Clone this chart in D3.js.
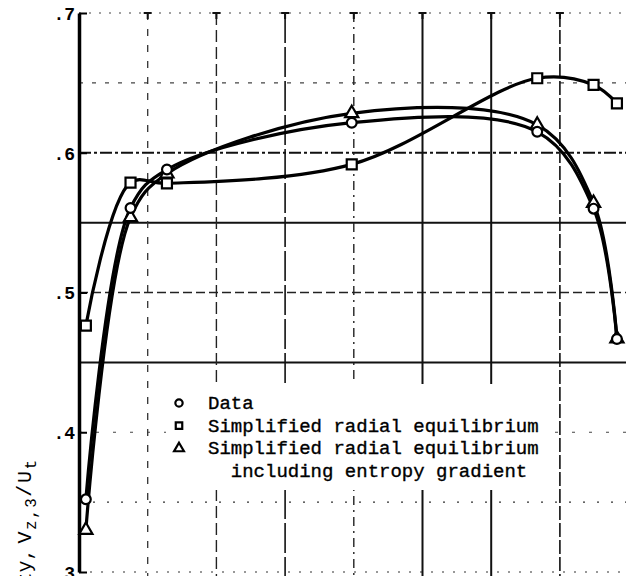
<!DOCTYPE html>
<html><head><meta charset="utf-8">
<script src="https://cdn.jsdelivr.net/npm/d3@7"></script>
<style>html,body{margin:0;padding:0;background:#fff;} svg{display:block;}</style>
</head><body><svg id="chart" width="626" height="576"></svg>
<script>
// ---- data ----
const stations = [0.1, 0.75, 1.28, 3.97, 6.67, 7.49, 7.83];
const dataValues = [0.352, 0.5605, 0.588, 0.6215, 0.615, 0.560, 0.4667];
const sreValues = [0.4763, 0.5786, 0.5781, 0.5917, 0.6533, 0.6485, 0.6354];
const sreEntropyValues = [0.330, 0.5538, 0.585, 0.6282, 0.620, 0.564, 0.467];
const yTicks = [0.3, 0.4, 0.5, 0.6, 0.7];
const yTickLabels = [".3", ".4", ".5", ".6", ".7"];
const hGrid = [0.3, 0.35, 0.4, 0.45, 0.5, 0.55, 0.6, 0.65, 0.7];
const vGrid = [1, 2, 3, 4, 5, 6, 7];
const legendLabels = ["Data", "Simplified radial equilibrium", "Simplified radial equilibrium", "  including entropy gradient"];
const yTitleLead = "Axial velocity,";

// ---- styles ----
const hStyle = {
  0.3: {w: 1.2, dash: "2,9", c: "#333"},
  0.35: {w: 1.2, dash: "2,12", c: "#333"},
  0.4: {w: 1.2, dash: "3,14", c: "#444"},
  0.45: {w: 2, dash: null, c: "#111"},
  0.5: {w: 1.4, dash: "9,4", c: "#222"},
  0.55: {w: 2, dash: null, c: "#111"},
  0.6: {w: 1.8, dash: "12,3,3,3", c: "#111"},
  0.65: {w: 1.2, dash: "4,9", c: "#444"},
  0.7: {w: 1.2, dash: "2,8", c: "#444"}
};
const vStyle = {
  1: {w: 1.3, dash: "7,9", c: "#333"},
  2: {w: 1.4, dash: "12,5", c: "#222"},
  3: {w: 1.6, dash: "30,4", c: "#111"},
  4: {w: 1.4, dash: "9,5,2,5", c: "#222"},
  5: {w: 2, dash: null, c: "#111"},
  6: {w: 2, dash: null, c: "#111"},
  7: {w: 1.6, dash: "14,3", c: "#111"}
};

const svg = d3.select("#chart");
const x = d3.scaleLinear().domain([0, 8]).range([79, 628.6]);
const y = d3.scaleLinear().domain([0.3, 0.7]).range([572, 13]);
const mono = "'Liberation Mono', 'DejaVu Sans Mono', monospace";

// grid
const grid = svg.append("g");
grid.selectAll("line.h").data(hGrid).join("line")
  .attr("x1", x(0)).attr("x2", 626)
  .attr("y1", d => y(d)).attr("y2", d => y(d))
  .attr("stroke", d => hStyle[d].c).attr("stroke-width", d => hStyle[d].w)
  .attr("stroke-dasharray", d => hStyle[d].dash);
grid.selectAll("line.v").data(vGrid).join("line")
  .attr("x1", d => x(d)).attr("x2", d => x(d))
  .attr("y1", y(0.7)).attr("y2", 576)
  .attr("stroke", d => vStyle[d].c).attr("stroke-width", d => vStyle[d].w)
  .attr("stroke-dasharray", d => vStyle[d].dash);
grid.selectAll("path.t").data(vGrid).join("path")
  .attr("d", d => `M${x(d)-4},${y(0.7)}h8M${x(d)},${y(0.7)}v6`)
  .attr("stroke", "#111").attr("stroke-width", 2);

// legend white box
svg.append("rect").attr("x", 166).attr("y", 384).attr("width", 382).attr("height", 106).attr("fill", "#fff");

// y axis
const yAxis = d3.axisLeft(y).tickValues(yTicks).tickSize(0).tickFormat((d, i) => yTickLabels[i]);
const ya = svg.append("g").attr("transform", `translate(${x(0)},0)`).call(yAxis);
ya.select(".domain").attr("stroke", "#000").attr("stroke-width", 3.5);
ya.selectAll(".tick text").attr("x", -4).attr("dy", "0.36em")
  .style("font-family", mono).style("font-size", "18px").style("font-weight", "bold").attr("fill", "#000");
ya.selectAll(".tick").append("line").attr("x1", 0).attr("x2", 8).attr("stroke", "#000").attr("stroke-width", 2);

// y title (runs past the bottom edge, as in the reference)
const yt = svg.append("text").attr("transform", "translate(31,460) rotate(-90)")
  .attr("text-anchor", "end").style("font-family", mono).style("font-size", "20px").attr("fill", "#000");
yt.append("tspan").text(yTitleLead);
yt.append("tspan").attr("dx", 5).style("letter-spacing", "1.5px").text("V");
yt.append("tspan").attr("dy", 5).style("font-size", "16px").style("letter-spacing", "1.5px").text("z,3");
yt.append("tspan").attr("dy", -5).style("letter-spacing", "1.5px").text("/U");
yt.append("tspan").attr("dy", 5).style("font-size", "16px").text("t");

// curves
const series = [
  {vals: sreValues, sym: "square"},
  {vals: sreEntropyValues, sym: "triangle"},
  {vals: dataValues, sym: "circle"}
];
const line = d3.line().x(d => x(d[0])).y(d => y(d[1])).curve(d3.curveCatmullRom.alpha(0.5));
series.forEach(s => {
  const pts = stations.map((st, i) => [st, s.vals[i]]);
  svg.append("path").datum(pts).attr("d", line)
    .attr("fill", "none").attr("stroke", "#000").attr("stroke-width", 3.2);
});
const symType = {circle: d3.symbolCircle, square: d3.symbolSquare, triangle: d3.symbolTriangle};
const symSize = {circle: 75, square: 100, triangle: 75};
series.forEach(s => {
  const pts = stations.map((st, i) => [st, s.vals[i]]);
  svg.append("g").selectAll("path").data(pts).join("path")
    .attr("transform", d => `translate(${x(d[0])},${y(d[1])})`)
    .attr("d", d3.symbol().type(symType[s.sym]).size(symSize[s.sym])())
    .attr("fill", "#fff").attr("stroke", "#000").attr("stroke-width", 2.2);
});

// legend
const legSyms = ["circle", "square", "triangle", null];
const lg = svg.append("g");
legendLabels.forEach((lab, i) => {
  const yy = 409 + i * 22.7;
  if (legSyms[i]) {
    lg.append("path").attr("transform", `translate(179,${yy - 6})`)
      .attr("d", d3.symbol().type(symType[legSyms[i]]).size(42)())
      .attr("fill", "#fff").attr("stroke", "#000").attr("stroke-width", 2.2);
  }
  lg.append("text").attr("x", 208).attr("y", yy).attr("xml:space", "preserve")
    .style("white-space", "pre").style("stroke", "#000").style("stroke-width", "0.35px")
    .style("font-family", mono).style("font-size", "19px").attr("fill", "#000").text(lab);
});
</script></body></html>
